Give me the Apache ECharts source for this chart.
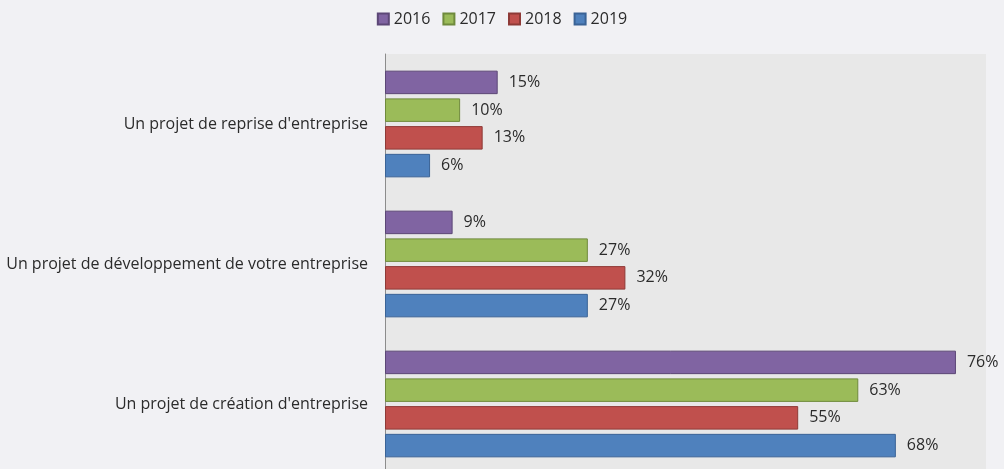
<!DOCTYPE html>
<html><head><meta charset="utf-8">
<script src="https://cdn.jsdelivr.net/npm/echarts@6/dist/echarts.min.js"></script>
<style>html,body{margin:0;padding:0;background:#f1f1f4;}#c{width:1004px;height:469px;}</style>
</head><body><div id="c"></div>
<script>
const categories = ["Un projet de reprise d'entreprise", "Un projet de développement de votre entreprise", "Un projet de création d'entreprise"];
const years = ["2016", "2017", "2018", "2019"];
const v2016 = [15, 9, 76];
const v2017 = [10, 27, 63];
const v2018 = [13, 32, 55];
const v2019 = [6, 27, 68];
const values = [v2016, v2017, v2018, v2019];
const colors = ['#8064A2', '#9BBB59', '#C0504D', '#4F81BD'];
const borders = ['#5C4776', '#6F8A3C', '#8E3A37', '#3A6396'];
const FONT = 'Open Sans';
const chart = echarts.init(document.getElementById('c'), null, {renderer: 'canvas'});
chart.setOption({
  backgroundColor: '#f1f1f4',
  animation: false,
  textStyle: {fontFamily: FONT},
  legend: {
    top: 6, left: 'center',
    itemWidth: 11, itemHeight: 11, itemGap: 12,
    icon: 'rect',
    textStyle: {fontSize: 16, color: '#2b2b2b', fontFamily: FONT},
    data: years
  },
  grid: {left: 385, top: 54, width: 601, height: 420, backgroundColor: '#e8e8e8', show: true, borderWidth: 0, containLabel: false, outerBoundsMode: 'none'},
  xAxis: {type: 'value', min: 0, max: 80, show: false},
  yAxis: {
    type: 'category', data: categories, inverse: true,
    axisLine: {lineStyle: {color: '#8c8c8c', width: 1}},
    axisTick: {show: false},
    axisLabel: {fontSize: 16, color: '#2b2b2b', margin: 17, fontFamily: FONT}
  },
  series: years.map((y, i) => ({
    name: y, type: 'bar', data: values[i],
    barWidth: 23.5, barGap: '18%',
    itemStyle: {color: colors[i], borderColor: borders[i], borderWidth: 1},
    label: {show: true, position: 'right', distance: 11, formatter: '{c}%', fontSize: 16, color: '#2b2b2b', fontFamily: FONT}
  }))
});
</script></body></html>
